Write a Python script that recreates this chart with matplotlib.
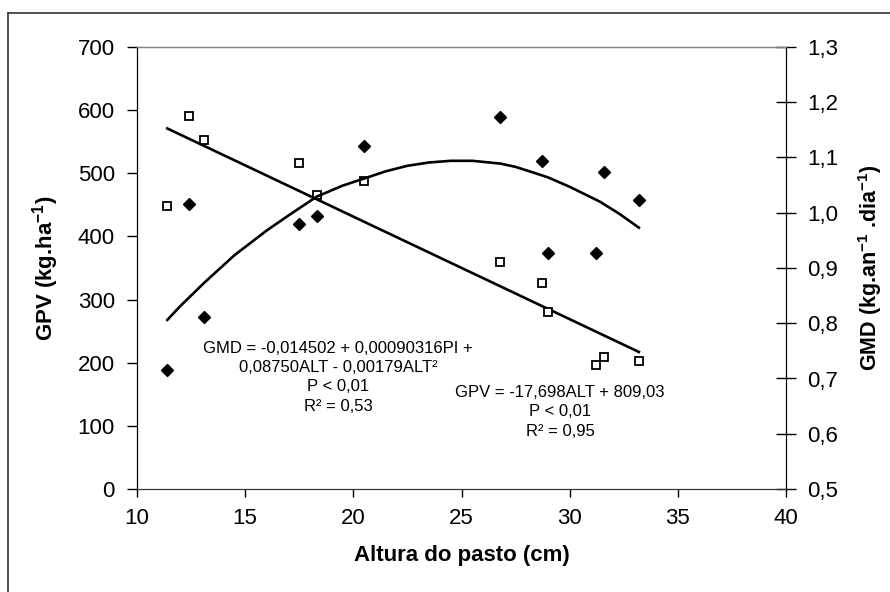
import matplotlib
matplotlib.use('Agg')
import matplotlib.pyplot as plt
from matplotlib.lines import Line2D

plt.rcParams['font.family'] = ['Liberation Sans', 'DejaVu Sans']
plt.rcParams['mathtext.fontset'] = 'custom'
plt.rcParams['mathtext.rm'] = 'Liberation Sans'
plt.rcParams['mathtext.bf'] = 'Liberation Sans:bold'

# Altura do pasto (cm) de cada observação
altura = [11.4, 12.4, 13.1, 17.5, 18.3, 20.5, 26.8, 28.7, 29.0, 31.2, 31.6, 33.2]
# GPV (kg/ha) - quadrados
gpv = [448, 590, 553, 517, 466, 487, 360, 326, 280, 197, 209, 202]
# GMD (kg/an/dia) - losangos
gmd = [0.715, 1.015, 0.812, 0.979, 0.995, 1.121, 1.173, 1.094, 0.927, 0.927, 1.073, 1.023]

# Reta ajustada do GPV (extremos)
reta_x = [11.4, 33.2]
reta_y = [571, 217]

# Curva ajustada do GMD
curva_x = [11.4, 12.0, 13.1, 14.5, 16.0, 17.0, 18.3, 19.5, 20.5, 21.5, 22.5, 23.5,
           24.5, 25.5, 26.8, 27.5, 28.3, 29.0, 30.0, 31.4, 32.3, 33.2]
curva_y = [0.806, 0.831, 0.873, 0.923, 0.968, 0.995, 1.029, 1.049, 1.062, 1.075, 1.085, 1.091,
           1.094, 1.094, 1.089, 1.083, 1.073, 1.064, 1.047, 1.020, 0.998, 0.973]

x_ticks = [10, 15, 20, 25, 30, 35, 40]
gpv_ticks = [0, 100, 200, 300, 400, 500, 600, 700]
gmd_ticks = [0.5, 0.6, 0.7, 0.8, 0.9, 1.0, 1.1, 1.2, 1.3]
gmd_labels = ['0,5', '0,6', '0,7', '0,8', '0,9', '1,0', '1,1', '1,2', '1,3']

texto_gmd = ('GMD = -0,014502 + 0,00090316PI +\n0,08750ALT - 0,00179ALT²\n'
             'P < 0,01\nR² = 0,53')
texto_gpv = 'GPV = -17,698ALT + 809,03\nP < 0,01\nR² = 0,95'

fig = plt.figure(figsize=(8.9, 5.92), dpi=100)
ax = fig.add_axes([137 / 890, 1 - 489 / 592, 649 / 890, 442 / 592])
ax2 = ax.twinx()

ax.plot(altura, gpv, 's', ms=6, mfc='white', mec='black', mew=1.3, zorder=3)
ax.plot(reta_x, reta_y, '-', color='black', lw=1.9)
ax2.plot(altura, gmd, 'D', ms=6.5, color='black', zorder=3)
ax2.plot(curva_x, curva_y, '-', color='black', lw=1.9)

ax.set_xlim(10, 40)
ax.set_ylim(0, 700)
ax2.set_ylim(0.5, 1.3)
ax.set_xticks(x_ticks)
ax.set_yticks(gpv_ticks)
ax2.set_yticks(gmd_ticks)
ax2.set_yticklabels(gmd_labels)

ax.tick_params(axis='x', direction='out', length=6, width=1, labelsize=16, pad=8)
ax.tick_params(axis='y', direction='out', length=7, width=1, labelsize=16, pad=9)
ax2.tick_params(axis='y', direction='inout', length=14, width=1, labelsize=16, pad=8)

for a in (ax, ax2):
    a.spines['top'].set_color('#808080')
    a.spines['top'].set_linewidth(0.9)
    a.spines['bottom'].set_color('#333333')
    a.spines['left'].set_color('black')
    a.spines['right'].set_color('black')

ax.set_xlabel('Altura do pasto (cm)', fontsize=16, fontweight='bold', labelpad=11)
ax.set_ylabel(r'GPV (kg.ha$^{\mathbf{-1}}$)', fontsize=16, fontweight='bold', labelpad=12)
ax2.set_ylabel(r'GMD (kg.an$^{\mathbf{-1}}$ .dia$^{\mathbf{-1}}$)', fontsize=15.5,
               fontweight='bold', rotation=90, labelpad=13)

ax.text(19.3, 177, texto_gmd, ha='center', va='center', multialignment='center',
        fontsize=12, linespacing=1.35)
ax.text(29.56, 122, texto_gpv, ha='center', va='center', multialignment='center',
        fontsize=12, linespacing=1.35)

# borda externa do gráfico (só aparecem a esquerda e o topo)
fig.add_artist(Line2D([8 / 890, 8 / 890], [0, 1 - 13 / 592], color='#333333', lw=1.2))
fig.add_artist(Line2D([8 / 890, 1], [1 - 13 / 592, 1 - 13 / 592], color='#333333', lw=1.2))

fig.savefig('out.png', dpi=100)
